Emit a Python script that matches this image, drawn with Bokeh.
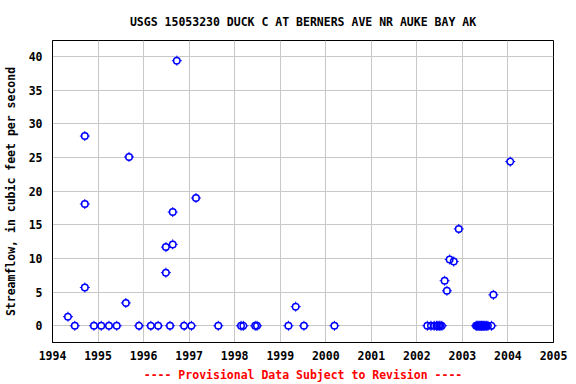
from bokeh.plotting import figure
from bokeh.models import ColumnDataSource, FixedTicker, Range1d
from bokeh.embed import file_html
from bokeh.resources import INLINE

# Decimal-year dates of field measurements and streamflow (cfs)
dates = [1994.34, 1994.49, 1994.71, 1994.71, 1994.71, 1994.91, 1995.07, 1995.24,
         1995.41, 1995.61, 1995.68, 1995.90, 1996.16, 1996.32, 1996.49, 1996.49,
         1996.58, 1996.64, 1996.64, 1996.73, 1996.89, 1997.05, 1997.15, 1997.64,
         1998.14, 1998.19, 1998.45, 1998.49, 1999.18, 1999.34, 1999.52, 2000.19,
         2002.23, 2002.31, 2002.38, 2002.43, 2002.46, 2002.49, 2002.51, 2002.55,
         2002.61, 2002.66, 2002.72, 2002.81, 2002.92,
         2003.30, 2003.32, 2003.34, 2003.36, 2003.38, 2003.40, 2003.42, 2003.44,
         2003.46, 2003.48, 2003.50, 2003.53, 2003.56, 2003.64,
         2003.68, 2004.05]
flows = [1.35, 0, 28.2, 18.1, 5.7, 0, 0, 0,
         0, 3.4, 25.1, 0, 0, 0, 11.7, 7.9,
         0, 16.9, 12.1, 39.4, 0, 0, 19.0, 0,
         0, 0, 0, 0, 0, 2.85, 0, 0,
         0, 0, 0, 0, 0, 0, 0, 0,
         6.7, 5.2, 9.85, 9.55, 14.4,
         0, 0, 0, 0, 0, 0, 0, 0,
         0, 0, 0, 0, 0, 0,
         4.6, 24.4]

x_ticks = list(range(1994, 2006))
y_ticks = [0, 5, 10, 15, 20, 25, 30, 35, 40]

title_text = "USGS 15053230 DUCK C AT BERNERS AVE NR AUKE BAY AK"
y_label = "Streamflow, in cubic feet per second"
x_label = "---- Provisional Data Subject to Revision ----"

FONT = "DejaVu Sans Mono"
FS = "11.5px"

src = ColumnDataSource(dict(x=dates, y=flows))

p = figure(width=576, height=384, output_backend="svg", toolbar_location=None,
           x_range=Range1d(1994, 2005), y_range=Range1d(-2.48, 42.4),
           min_border_left=52, min_border_right=23, min_border_top=40, min_border_bottom=42,
           background_fill_color="white", border_fill_color="white")

p.title.text = title_text
p.title.align = "center"
p.title.text_font = FONT
p.title.text_font_size = FS
p.title.text_font_style = "bold"
p.title.text_color = "black"
p.title.standoff = 24

p.outline_line_color = "black"
p.outline_line_width = 1
p.outline_line_alpha = 1

p.xaxis.ticker = FixedTicker(ticks=x_ticks)
p.yaxis.ticker = FixedTicker(ticks=y_ticks)
p.xaxis.minor_tick_line_color = None
p.yaxis.minor_tick_line_color = None
p.xaxis.major_tick_out = 0
p.yaxis.major_tick_out = 0
p.xaxis.major_tick_in = 0
p.yaxis.major_tick_in = 0
for ax in (p.xaxis, p.yaxis):
    ax.axis_line_color = "black"
    ax.major_label_text_font = FONT
    ax.major_label_text_font_size = FS
    ax.major_label_text_font_style = "bold"
    ax.major_label_text_color = "black"
    ax.axis_label_text_font = FONT
    ax.axis_label_text_font_size = FS
    ax.axis_label_text_font_style = "bold"

p.xaxis.major_label_standoff = 8
p.xaxis.axis_label = x_label
p.xaxis.axis_label_text_color = "red"
p.xaxis.axis_label_standoff = 5

p.yaxis.major_label_standoff = 10
p.yaxis.axis_label = y_label
p.yaxis.axis_label_text_color = "black"
p.yaxis.axis_label_standoff = 8

p.xgrid.grid_line_color = "#c8c8c8"
p.ygrid.grid_line_color = "#c8c8c8"
p.xgrid.grid_line_width = 1
p.ygrid.grid_line_width = 1

p.scatter("x", "y", source=src, marker="cross", size=10, line_color="blue", line_width=1)
p.scatter("x", "y", source=src, marker="circle", size=5.5, fill_color="white", line_color=None)
p.scatter("x", "y", source=src, marker="circle", size=6.5, fill_color=None,
          line_color="blue", line_width=1.5)

open("out.html", "w").write(file_html(p, INLINE))
